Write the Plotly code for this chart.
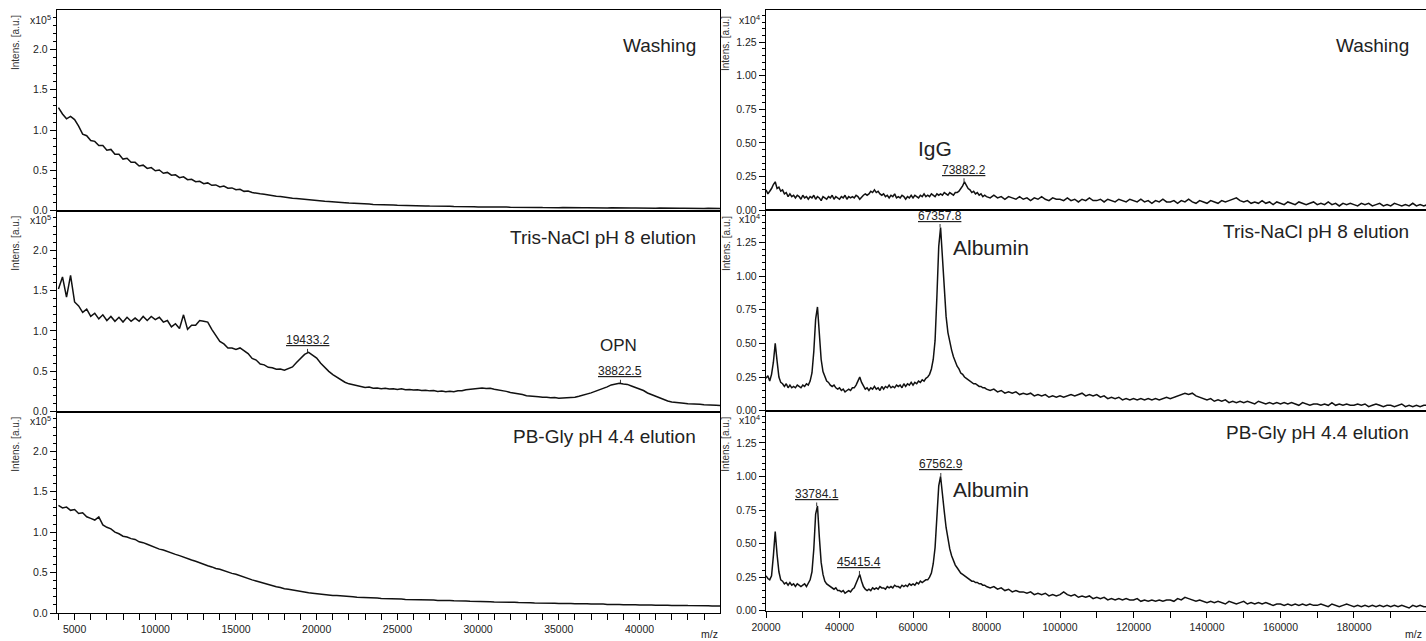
import plotly.graph_objects as go

# ---------------- data ----------------
# m/z sampling grid for left column (x 1e5 intensity units)
mz_left = [
    4000, 4250, 4500, 4750, 5000, 5250, 5500, 5750,
    6000, 6250, 6500, 6750, 7000, 7250, 7500, 7750,
    8000, 8250, 8500, 8750, 9000, 9250, 9500, 9750,
    10000, 10250, 10500, 10750, 11000, 11250, 11500, 11750,
    12000, 12250, 12500, 12750, 13000, 13250, 13500, 13750,
    14000, 14250, 14500, 14750, 15000, 15250, 15500, 15750,
    16000, 16250, 16500, 16750, 17000, 17250, 17500, 17750,
    18000, 18250, 18500, 18750, 19000, 19250, 19500, 19750,
    20000, 20250, 20500, 20750, 21000, 21250, 21500, 21750,
    22000, 22250, 22500, 22750, 23000, 23250, 23500, 23750,
    24000, 24250, 24500, 24750, 25000, 25250, 25500, 25750,
    26000, 26250, 26500, 26750, 27000, 27250, 27500, 27750,
    28000, 28250, 28500, 28750, 29000, 29250, 29500, 29750,
    30000, 30250, 30500, 30750, 31000, 31250, 31500, 31750,
    32000, 32250, 32500, 32750, 33000, 33250, 33500, 33750,
    34000, 34250, 34500, 34750, 35000, 35250, 35500, 35750,
    36000, 36250, 36500, 36750, 37000, 37250, 37500, 37750,
    38000, 38250, 38500, 38750, 39000, 39250, 39500, 39750,
    40000, 40250, 40500, 40750, 41000, 41250, 41500, 41750,
    42000, 42250, 42500, 42750, 43000, 43250, 43500, 43750,
    44000, 44250, 44500, 44750, 45000,
]

washing_left = [
    1.28, 1.20, 1.14, 1.17, 1.13, 1.05, 0.95, 0.93,
    0.87, 0.86, 0.81, 0.81, 0.75, 0.76, 0.70, 0.70,
    0.64, 0.65, 0.60, 0.60, 0.555, 0.565, 0.525, 0.535,
    0.495, 0.505, 0.465, 0.475, 0.44, 0.445, 0.41, 0.42,
    0.385, 0.39, 0.36, 0.365, 0.335, 0.345, 0.315, 0.32,
    0.295, 0.305, 0.28, 0.283, 0.26, 0.265, 0.24, 0.245,
    0.225, 0.222, 0.21, 0.205, 0.195, 0.19, 0.18, 0.176,
    0.166, 0.163, 0.155, 0.151, 0.145, 0.141, 0.134, 0.131,
    0.124, 0.122, 0.116, 0.114, 0.108, 0.106, 0.100, 0.099,
    0.094, 0.093, 0.088, 0.087, 0.083, 0.082, 0.078, 0.078,
    0.074, 0.074, 0.070, 0.070, 0.067, 0.067, 0.064, 0.064,
    0.061, 0.062, 0.059, 0.059, 0.057, 0.058, 0.055, 0.056,
    0.053, 0.054, 0.051, 0.052, 0.050, 0.051, 0.048, 0.050,
    0.047, 0.048, 0.046, 0.047, 0.045, 0.046, 0.044, 0.045,
    0.043, 0.044, 0.042, 0.043, 0.041, 0.042, 0.040, 0.041,
    0.039, 0.041, 0.038, 0.040, 0.038, 0.039, 0.037, 0.039,
    0.036, 0.038, 0.036, 0.037, 0.035, 0.037, 0.035, 0.036,
    0.034, 0.036, 0.034, 0.035, 0.033, 0.035, 0.033, 0.034,
    0.032, 0.034, 0.032, 0.033, 0.031, 0.033, 0.031, 0.032,
    0.030, 0.032, 0.030, 0.031, 0.029, 0.031, 0.029, 0.030,
    0.028, 0.030, 0.028, 0.029, 0.028,
]

tris_left = [
    1.52, 1.67, 1.42, 1.69, 1.36, 1.31, 1.23, 1.27,
    1.18, 1.22, 1.15, 1.20, 1.13, 1.18, 1.12, 1.17,
    1.11, 1.17, 1.12, 1.16, 1.12, 1.18, 1.13, 1.18,
    1.14, 1.17, 1.11, 1.13, 1.05, 1.09, 1.03, 1.20,
    1.02, 1.07, 1.07, 1.13, 1.12, 1.11, 1.02, 0.95,
    0.87, 0.84, 0.79, 0.79, 0.77, 0.79, 0.76, 0.72,
    0.66, 0.64, 0.59, 0.58, 0.55, 0.545, 0.525, 0.53,
    0.515, 0.535, 0.555, 0.61, 0.665, 0.71, 0.735, 0.70,
    0.665, 0.60, 0.545, 0.50, 0.46, 0.425, 0.39, 0.365,
    0.345, 0.335, 0.32, 0.315, 0.30, 0.305, 0.29, 0.295,
    0.285, 0.29, 0.28, 0.285, 0.275, 0.285, 0.272, 0.275,
    0.268, 0.272, 0.262, 0.266, 0.258, 0.262, 0.25, 0.255,
    0.248, 0.254, 0.248, 0.258, 0.26, 0.272, 0.278, 0.288,
    0.288, 0.295, 0.288, 0.29, 0.278, 0.272, 0.258, 0.252,
    0.238, 0.232, 0.218, 0.212, 0.198, 0.196, 0.188, 0.186,
    0.178, 0.18, 0.172, 0.175, 0.168, 0.172, 0.168, 0.178,
    0.18, 0.192, 0.203, 0.222, 0.233, 0.252, 0.268, 0.292,
    0.308, 0.332, 0.338, 0.352, 0.342, 0.338, 0.318, 0.302,
    0.278, 0.262, 0.232, 0.212, 0.188, 0.172, 0.148, 0.133,
    0.12, 0.117, 0.108, 0.106, 0.098, 0.098, 0.092, 0.093,
    0.086, 0.087, 0.082, 0.081, 0.077,
]

pbgly_left = [
    1.33, 1.30, 1.31, 1.27, 1.28, 1.23, 1.24, 1.19,
    1.17, 1.15, 1.19, 1.09, 1.06, 1.04, 1.00, 0.98,
    0.95, 0.94, 0.92, 0.91, 0.88, 0.87, 0.85, 0.83,
    0.815, 0.79, 0.78, 0.76, 0.745, 0.725, 0.71, 0.69,
    0.675, 0.655, 0.64, 0.62, 0.605, 0.585, 0.57, 0.55,
    0.54, 0.52, 0.51, 0.49, 0.48, 0.46, 0.445, 0.425,
    0.41, 0.395, 0.38, 0.365, 0.35, 0.34, 0.325, 0.315,
    0.30, 0.295, 0.285, 0.275, 0.265, 0.26, 0.25, 0.245,
    0.238, 0.234, 0.228, 0.226, 0.218, 0.216, 0.21, 0.207,
    0.202, 0.2, 0.196, 0.195, 0.19, 0.19, 0.185, 0.184,
    0.18, 0.18, 0.176, 0.176, 0.171, 0.172, 0.168, 0.168,
    0.165, 0.166, 0.162, 0.163, 0.159, 0.16, 0.156, 0.157,
    0.153, 0.154, 0.15, 0.151, 0.147, 0.148, 0.144, 0.145,
    0.141, 0.143, 0.139, 0.14, 0.137, 0.138, 0.134, 0.136,
    0.132, 0.133, 0.129, 0.131, 0.127, 0.128, 0.125, 0.126,
    0.123, 0.124, 0.12, 0.122, 0.118, 0.12, 0.116, 0.118,
    0.114, 0.116, 0.112, 0.114, 0.11, 0.112, 0.108, 0.11,
    0.106, 0.108, 0.105, 0.106, 0.103, 0.105, 0.101, 0.103,
    0.1, 0.102, 0.098, 0.1, 0.097, 0.099, 0.095, 0.097,
    0.094, 0.096, 0.093, 0.094, 0.092, 0.093, 0.09, 0.092,
    0.089, 0.091, 0.088, 0.09, 0.088,
]

# m/z sampling grid for right column (x 1e4 intensity units)
mz_right = [
    20000, 20500, 21000, 21500, 22000, 22500, 23000, 23500,
    24000, 24500, 25000, 25500, 26000, 26500, 27000, 27500,
    28000, 28500, 29000, 29500, 30000, 30500, 31000, 31500,
    32000, 32500, 33000, 33500, 34000, 34500, 35000, 35500,
    36000, 36500, 37000, 37500, 38000, 38500, 39000, 39500,
    40000, 40500, 41000, 41500, 42000, 42500, 43000, 43500,
    44000, 44500, 45000, 45500, 46000, 46500, 47000, 47500,
    48000, 48500, 49000, 49500, 50000, 50500, 51000, 51500,
    52000, 52500, 53000, 53500, 54000, 54500, 55000, 55500,
    56000, 56500, 57000, 57500, 58000, 58500, 59000, 59500,
    60000, 60500, 61000, 61500, 62000, 62500, 63000, 63500,
    64000, 64500, 65000, 65500, 66000, 66500, 67000, 67500,
    68000, 68500, 69000, 69500, 70000, 70500, 71000, 71500,
    72000, 72500, 73000, 73500, 74000, 74500, 75000, 75500,
    76000, 76500, 77000, 77500, 78000, 78500, 79000, 79500,
    80000, 81000, 82000, 83000, 84000, 85000, 86000, 87000, 88000, 89000,
    90000, 91000, 92000, 93000, 94000, 95000, 96000, 97000, 98000, 99000,
    100000, 101000, 102000, 103000, 104000, 105000, 106000, 107000, 108000, 109000,
    110000, 111000, 112000, 113000, 114000, 115000, 116000, 117000, 118000, 119000,
    120000, 121000, 122000, 123000, 124000, 125000, 126000, 127000, 128000, 129000,
    130000, 131000, 132000, 133000, 134000, 135000, 136000, 137000, 138000, 139000,
    140000, 141000, 142000, 143000, 144000, 145000, 146000, 147000, 148000, 149000,
    150000, 151000, 152000, 153000, 154000, 155000, 156000, 157000, 158000, 159000,
    160000, 161000, 162000, 163000, 164000, 165000, 166000, 167000, 168000, 169000,
    170000, 171000, 172000, 173000, 174000, 175000, 176000, 177000, 178000, 179000,
    180000, 181000, 182000, 183000, 184000, 185000, 186000, 187000, 188000, 189000,
    190000, 191000, 192000, 193000, 194000, 195000, 196000, 197000, 198000, 199000,
    200000,
]

washing_right = [
    0.15, 0.12, 0.14, 0.16, 0.19, 0.21, 0.16, 0.17,
    0.14, 0.15, 0.12, 0.13, 0.10, 0.12, 0.10, 0.11,
    0.09, 0.11, 0.10, 0.08, 0.11, 0.09, 0.10, 0.08,
    0.10, 0.09, 0.11, 0.08, 0.10, 0.09, 0.07, 0.10,
    0.09, 0.08, 0.10, 0.09, 0.11, 0.08, 0.10, 0.09,
    0.08, 0.10, 0.09, 0.11, 0.08, 0.10, 0.09, 0.10,
    0.09, 0.11, 0.10, 0.08, 0.10, 0.11, 0.12, 0.11,
    0.12, 0.14, 0.13, 0.15, 0.13, 0.14, 0.12, 0.11,
    0.12, 0.10, 0.11, 0.09, 0.11, 0.10, 0.12, 0.09,
    0.10, 0.09, 0.11, 0.10, 0.08, 0.10, 0.09, 0.11,
    0.09, 0.11, 0.10, 0.09, 0.11, 0.10, 0.12, 0.10,
    0.11, 0.10, 0.12, 0.11, 0.10, 0.12, 0.11, 0.12,
    0.11, 0.13, 0.12, 0.11, 0.13, 0.12, 0.11, 0.13,
    0.13, 0.14, 0.16, 0.18, 0.21, 0.18, 0.16, 0.15,
    0.13, 0.14, 0.12, 0.13, 0.11, 0.12, 0.10, 0.11,
    0.10, 0.09, 0.11, 0.09, 0.10, 0.08, 0.10, 0.09, 0.08, 0.10,
    0.08, 0.09, 0.07, 0.09, 0.08, 0.10, 0.08, 0.07, 0.09, 0.08,
    0.08, 0.07, 0.09, 0.07, 0.08, 0.06, 0.08, 0.07, 0.09, 0.07,
    0.07, 0.08, 0.06, 0.08, 0.07, 0.06, 0.08, 0.07, 0.06, 0.08,
    0.07, 0.06, 0.08, 0.06, 0.07, 0.05, 0.07, 0.06, 0.08, 0.06,
    0.06, 0.07, 0.05, 0.07, 0.06, 0.08, 0.06, 0.05, 0.07, 0.06,
    0.05, 0.07, 0.06, 0.05, 0.07, 0.06, 0.07, 0.08, 0.09, 0.07,
    0.06, 0.07, 0.05, 0.06, 0.05, 0.07, 0.05, 0.06, 0.04, 0.06,
    0.05, 0.04, 0.06, 0.05, 0.04, 0.06, 0.05, 0.04, 0.05, 0.06,
    0.04, 0.05, 0.04, 0.06, 0.04, 0.05, 0.03, 0.05, 0.04, 0.05,
    0.04, 0.03, 0.05, 0.04, 0.05, 0.03, 0.04, 0.05, 0.03, 0.04,
    0.03, 0.05, 0.04, 0.03, 0.04, 0.03, 0.05, 0.03, 0.04, 0.03,
    0.04,
]

tris_right = [
    0.24, 0.26, 0.22, 0.27, 0.36, 0.50, 0.37, 0.25,
    0.21, 0.20, 0.18, 0.20, 0.17, 0.19, 0.17, 0.18,
    0.17, 0.19, 0.18, 0.17, 0.19, 0.18, 0.20, 0.19,
    0.22, 0.28, 0.44, 0.68, 0.77, 0.55, 0.38, 0.29,
    0.25, 0.22, 0.21, 0.19, 0.18, 0.19, 0.17, 0.16,
    0.17, 0.15, 0.16, 0.14, 0.15, 0.16, 0.15, 0.17,
    0.17, 0.19, 0.22, 0.25, 0.21, 0.18, 0.16, 0.17,
    0.15, 0.17, 0.16, 0.18, 0.16, 0.17, 0.15, 0.18,
    0.16, 0.18, 0.17, 0.19, 0.17, 0.18, 0.17, 0.19,
    0.18, 0.19, 0.17, 0.20, 0.18, 0.20, 0.19, 0.21,
    0.19, 0.21, 0.20, 0.22, 0.21, 0.23, 0.22, 0.24,
    0.25, 0.27, 0.31, 0.38, 0.52, 0.85, 1.22, 1.36,
    1.12, 0.88, 0.70, 0.58, 0.50, 0.45, 0.40, 0.36,
    0.33, 0.31, 0.28, 0.27, 0.25, 0.24, 0.23, 0.22,
    0.21, 0.20, 0.20, 0.19, 0.18, 0.18, 0.17, 0.17,
    0.16, 0.15, 0.16, 0.14, 0.15, 0.13, 0.14, 0.13, 0.14, 0.12,
    0.13, 0.12, 0.13, 0.11, 0.12, 0.11, 0.12, 0.10, 0.11, 0.10,
    0.11, 0.10, 0.11, 0.12, 0.11, 0.12, 0.13, 0.11, 0.12, 0.11,
    0.12, 0.10, 0.11, 0.09, 0.10, 0.09, 0.10, 0.08, 0.09, 0.08,
    0.09, 0.08, 0.09, 0.08, 0.09, 0.08, 0.09, 0.08, 0.09, 0.10,
    0.09, 0.10, 0.11, 0.12, 0.13, 0.12, 0.13, 0.11, 0.10, 0.09,
    0.08, 0.09, 0.07, 0.08, 0.07, 0.08, 0.06, 0.07, 0.06, 0.07,
    0.06, 0.07, 0.06, 0.05, 0.07, 0.06, 0.05, 0.06, 0.05, 0.06,
    0.05, 0.06, 0.05, 0.06, 0.05, 0.04, 0.06, 0.05, 0.04, 0.05,
    0.05, 0.04, 0.05, 0.04, 0.06, 0.04, 0.05, 0.04, 0.05, 0.04,
    0.04, 0.05, 0.04, 0.05, 0.03, 0.04, 0.05, 0.04, 0.03, 0.04,
    0.04, 0.03, 0.04, 0.05, 0.03, 0.04, 0.03, 0.04, 0.03, 0.04,
    0.04,
]

pbgly_right = [
    0.26, 0.24, 0.23, 0.26, 0.41, 0.59, 0.42, 0.29,
    0.23, 0.22, 0.20, 0.21, 0.19, 0.21, 0.19, 0.20,
    0.18, 0.20, 0.19, 0.18, 0.19, 0.20, 0.18, 0.20,
    0.23, 0.29, 0.46, 0.72, 0.78, 0.55, 0.36, 0.27,
    0.22, 0.20, 0.19, 0.18, 0.17, 0.16, 0.17, 0.15,
    0.15, 0.14, 0.15, 0.13, 0.14, 0.15, 0.14, 0.16,
    0.17, 0.20, 0.24, 0.27, 0.22, 0.18, 0.16, 0.15,
    0.16, 0.15, 0.17, 0.16, 0.17, 0.16, 0.18, 0.17,
    0.17, 0.16, 0.18, 0.17, 0.18, 0.17, 0.19, 0.18,
    0.18, 0.17, 0.19, 0.18, 0.19, 0.18, 0.20, 0.19,
    0.20, 0.19, 0.21, 0.20, 0.22, 0.21, 0.22, 0.23,
    0.23, 0.25, 0.28, 0.35, 0.47, 0.70, 0.93, 1.00,
    0.89, 0.74, 0.62, 0.52, 0.46, 0.41, 0.37, 0.34,
    0.32, 0.30, 0.28, 0.27, 0.26, 0.25, 0.24, 0.23,
    0.22, 0.22, 0.21, 0.21, 0.20, 0.20, 0.19, 0.19,
    0.18, 0.17, 0.18, 0.16, 0.17, 0.15, 0.16, 0.14, 0.15, 0.14,
    0.14, 0.13, 0.14, 0.12, 0.13, 0.12, 0.13, 0.11, 0.12, 0.11,
    0.12, 0.14, 0.12, 0.11, 0.12, 0.10, 0.11, 0.10, 0.11, 0.09,
    0.10, 0.09, 0.10, 0.08, 0.09, 0.08, 0.09, 0.08, 0.09, 0.08,
    0.08, 0.09, 0.07, 0.08, 0.07, 0.08, 0.07, 0.08, 0.07, 0.08,
    0.08, 0.07, 0.09, 0.08, 0.10, 0.09, 0.08, 0.07, 0.08, 0.07,
    0.06, 0.07, 0.06, 0.07, 0.06, 0.05, 0.07, 0.06, 0.05, 0.06,
    0.07, 0.05, 0.06, 0.05, 0.06, 0.05, 0.06, 0.05, 0.04, 0.05,
    0.05, 0.04, 0.05, 0.04, 0.05, 0.04, 0.05, 0.04, 0.05, 0.04,
    0.04, 0.05, 0.04, 0.03, 0.05, 0.04, 0.03, 0.04, 0.05, 0.04,
    0.03, 0.04, 0.03, 0.04, 0.03, 0.04, 0.03, 0.04, 0.03, 0.04,
    0.03, 0.04, 0.03, 0.04, 0.03, 0.02, 0.04, 0.03, 0.04, 0.03,
    0.03,
]

for name, ys, xs in [("washing_left", washing_left, mz_left), ("tris_left", tris_left, mz_left),
                     ("pbgly_left", pbgly_left, mz_left), ("washing_right", washing_right, mz_right),
                     ("tris_right", tris_right, mz_right), ("pbgly_right", pbgly_right, mz_right)]:
    assert len(ys) == len(xs), (name, len(ys), len(xs))

panel_titles = ["Washing", "Tris-NaCl pH 8 elution", "PB-Gly pH 4.4 elution"]

# peak labels (m/z) per panel: panel index -> list
peak_labels = {
    2: [19433.2, 38822.5],
    4: [73882.2],
    5: [67357.8],
    6: [33784.1, 45415.4, 67562.9],
}

# ---------------- figure ----------------
W, H = 1426, 641
FONT = "Liberation Sans, Arial, Helvetica, sans-serif"
INK = "#111111"

def px_x(p):
    return p / W

def px_y(p):
    return 1 - p / H

left_dom = [px_x(57), px_x(720)]
right_dom = [px_x(766), 1.0]
left_rows = [[px_y(210.7), px_y(10)], [px_y(411.7), px_y(210.7)], [px_y(613), px_y(411.7)]]
right_rows = [[px_y(210), px_y(10)], [px_y(410.7), px_y(210)], [px_y(610.7), px_y(410.7)]]

series = [
    (mz_left, washing_left), (mz_left, tris_left), (mz_left, pbgly_left),
    (mz_right, washing_right), (mz_right, tris_right), (mz_right, pbgly_right),
]

fig = go.Figure()
for i, (xs, ys) in enumerate(series, start=1):
    fig.add_trace(go.Scatter(
        x=xs, y=ys, mode="lines",
        line=dict(color=INK, width=1.5),
        xaxis="x" if i == 1 else f"x{i}",
        yaxis="y" if i == 1 else f"y{i}",
        showlegend=False, hoverinfo="skip",
    ))

layout = dict(
    width=W, height=H, autosize=False,
    margin=dict(l=0, r=0, t=0, b=0, pad=0, autoexpand=False),
    paper_bgcolor="white", plot_bgcolor="white",
    font=dict(family=FONT, color="#222222", size=11),
    showlegend=False,
)

tickfont = dict(family=FONT, size=10.5, color="#222222")
for i in range(1, 7):
    left = i <= 3
    row = (i - 1) % 3
    bottom = row == 2
    xk = "xaxis" if i == 1 else f"xaxis{i}"
    yk = "yaxis" if i == 1 else f"yaxis{i}"
    xa = dict(
        domain=left_dom if left else right_dom,
        anchor="y" if i == 1 else f"y{i}",
        range=[3910, 44990] if left else [19990, 199600],
        showline=True, mirror=True, linecolor="black", linewidth=1.2,
        showgrid=False, zeroline=False, automargin=False,
        showticklabels=bottom,
        ticks="outside" if bottom else "",
        ticklen=6, tickwidth=1, tickcolor="black",
        tick0=0, dtick=5000 if left else 20000,
        tickformat="d", tickfont=tickfont,
    )
    if bottom:
        xa["minor"] = dict(dtick=1000 if left else 10000, ticks="outside",
                           ticklen=6, tickwidth=1, tickcolor="black", showgrid=False)
    ya = dict(
        domain=(left_rows if left else right_rows)[row],
        anchor="x" if i == 1 else f"x{i}",
        range=[0, 2.49] if left else [0, 1.49],
        showline=True, mirror=True, linecolor="black", linewidth=1.2,
        showgrid=False, zeroline=False, automargin=False,
        ticks="outside", ticklen=6, tickwidth=1, tickcolor="black",
        tick0=0, dtick=0.5 if left else 0.25,
        tickformat=".1f" if left else ".2f", tickfont=tickfont,
        minor=dict(dtick=0.1 if left else 0.05, ticks="outside", ticklen=3,
                   tickwidth=1, tickcolor="black", showgrid=False),
    )
    layout[xk] = xa
    layout[yk] = ya

annotations = []
# panel titles
left_title_y = [45, 238, 436]
right_title_y = [45, 232, 432]
for row in range(3):
    annotations.append(dict(text=panel_titles[row], xref="paper", yref="paper",
                            x=px_x(698), y=px_y(left_title_y[row]), xanchor="right", yanchor="middle",
                            showarrow=False, font=dict(family=FONT, size=19, color="#222")))
    annotations.append(dict(text=panel_titles[row], xref="paper", yref="paper",
                            x=px_x(1411), y=px_y(right_title_y[row]), xanchor="right", yanchor="middle",
                            showarrow=False, font=dict(family=FONT, size=19, color="#222")))

# y-axis titles and exponent labels
left_tops = [10, 210.7, 411.7]
right_tops = [10, 210, 410.7]
for row in range(3):
    annotations.append(dict(text="Intens. [a.u.]", xref="paper", yref="paper",
                            x=px_x(16), y=px_y(left_tops[row] + 33), textangle=-90,
                            xanchor="center", yanchor="middle", showarrow=False,
                            font=dict(family=FONT, size=10, color="#333")))
    annotations.append(dict(text="Intens. [a.u.]", xref="paper", yref="paper",
                            x=px_x(726), y=px_y(right_tops[row] + 33), textangle=-90,
                            xanchor="center", yanchor="middle", showarrow=False,
                            font=dict(family=FONT, size=10, color="#333")))
    annotations.append(dict(text="x10<sup>5</sup>", xref="paper", yref="paper",
                            x=px_x(53), y=px_y(left_tops[row] + 9), xanchor="right",
                            yanchor="middle", showarrow=False,
                            font=dict(family=FONT, size=10.5, color="#222")))
    annotations.append(dict(text="x10<sup>4</sup>", xref="paper", yref="paper",
                            x=px_x(762), y=px_y(right_tops[row] + 9), xanchor="right",
                            yanchor="middle", showarrow=False,
                            font=dict(family=FONT, size=10.5, color="#222")))

# m/z labels
annotations.append(dict(text="m/z", xref="paper", yref="paper", x=px_x(720), y=px_y(634),
                        xanchor="right", yanchor="middle", showarrow=False,
                        font=dict(family=FONT, size=10.5, color="#222")))
annotations.append(dict(text="m/z", xref="paper", yref="paper", x=px_x(1424), y=px_y(634),
                        xanchor="right", yanchor="middle", showarrow=False,
                        font=dict(family=FONT, size=10.5, color="#222")))

# peak labels
for idx, masses in peak_labels.items():
    xs, ys = series[idx - 1]
    win = 400 if idx <= 3 else 600
    for m in masses:
        top = max(y for x, y in zip(xs, ys) if abs(x - m) <= win)
        annotations.append(dict(
            text=f"<u>{m:.1f}</u>", x=m, y=top,
            xref="x" if idx == 1 else f"x{idx}", yref="y" if idx == 1 else f"y{idx}",
            showarrow=True, arrowhead=0, arrowwidth=0.8, arrowcolor="black",
            ax=0, ay=-12, standoff=0,
            font=dict(family=FONT, size=12, color="#222"),
        ))

# named protein labels
annotations += [
    dict(text="OPN", x=38690, y=0.815, xref="x2", yref="y2", showarrow=False,
         xanchor="center", yanchor="middle", font=dict(family=FONT, size=17, color="#222")),
    dict(text="IgG", x=66050, y=0.46, xref="x4", yref="y4", showarrow=False,
         xanchor="center", yanchor="middle", font=dict(family=FONT, size=21, color="#222")),
    dict(text="Albumin", x=70400, y=1.21, xref="x5", yref="y5", showarrow=False,
         xanchor="left", yanchor="middle", font=dict(family=FONT, size=21, color="#222")),
    dict(text="Albumin", x=70400, y=0.90, xref="x6", yref="y6", showarrow=False,
         xanchor="left", yanchor="middle", font=dict(family=FONT, size=21, color="#222")),
]

layout["annotations"] = annotations
fig.update_layout(**layout)
fig.write_html(
    "out.html",
    config={"displayModeBar": False, "staticPlot": True},
    post_script="document.body.style.margin='0';document.body.style.padding='0';"
                "document.body.style.overflow='hidden';",
)
